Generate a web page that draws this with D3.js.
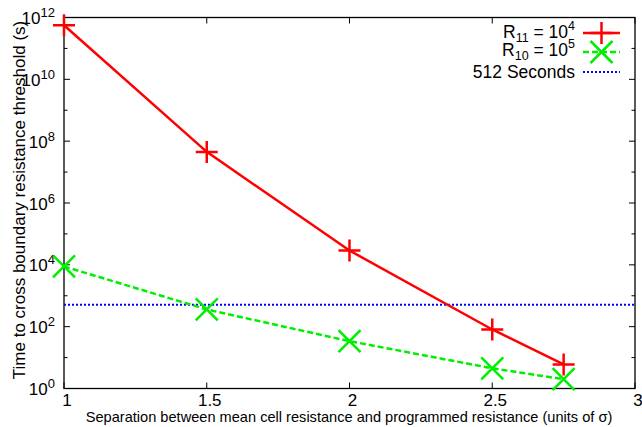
<!DOCTYPE html>
<html><head><meta charset="utf-8">
<script src="https://cdn.jsdelivr.net/npm/d3@7"></script>
<style>body{margin:0;background:#fff}text{font-family:"Liberation Sans",Arial,sans-serif;fill:#000}</style>
</head><body><svg id="c" width="642" height="427"></svg>
<script>
const xValues = [1, 1.5, 2, 2.5, 2.75];
const r11Values = [5.6e11, 4.5e7, 2.9e4, 81, 6];
const r10Values = [8.9e3, 360, 34, 4.5, 2];
const thresholdValue = 512;
const xTicks = [1, 1.5, 2, 2.5, 3];
const yTickExps = [0, 2, 4, 6, 8, 10, 12];
const yMinorExps = [0,1,2,3,4,5,6,7,8,9,10,11,12];
const legendLabels = [["R","11"," = 10","4"],["R","10"," = 10","5"],["512 Seconds"]];

const svg = d3.select("#c");
const L=64,R=635,T=17.5,B=388.5;
const x = d3.scaleLinear().domain([1,3]).range([L,R]);
const y = d3.scaleLog().domain([1,1e12]).range([B,T]);

// frame
svg.append("rect").attr("x",L).attr("y",T).attr("width",R-L).attr("height",B-T)
  .attr("fill","none").attr("stroke","#000").attr("stroke-width",1.3);

// y ticks
yMinorExps.forEach(e=>{
  const major = yTickExps.includes(e);
  const len = major?6:3.5;
  const yy=y(Math.pow(10,e));
  svg.append("line").attr("x1",L).attr("x2",L+len).attr("y1",yy).attr("y2",yy).attr("stroke","#000");
  svg.append("line").attr("x1",R).attr("x2",R-len).attr("y1",yy).attr("y2",yy).attr("stroke","#000");
});
yTickExps.forEach(e=>{
  const t=svg.append("text").attr("x",L-9).attr("y",y(Math.pow(10,e))+6.5).attr("text-anchor","end").attr("font-size",17);
  t.append("tspan").text("10");
  t.append("tspan").attr("dy",-7).attr("font-size",13).text(e);
});
// x ticks
xTicks.forEach(v=>{
  const xx=x(v);
  svg.append("line").attr("x1",xx).attr("x2",xx).attr("y1",B).attr("y2",B-6).attr("stroke","#000");
  svg.append("line").attr("x1",xx).attr("x2",xx).attr("y1",T).attr("y2",T+6).attr("stroke","#000");
  svg.append("text").attr("x",xx+3).attr("y",B+17).attr("text-anchor","middle").attr("font-size",17).text(v);
});

// axis titles
svg.append("text").attr("x",349).attr("y",422).attr("text-anchor","middle").attr("font-size",14.6)
  .text("Separation between mean cell resistance and programmed resistance (units of σ)");
svg.append("text").attr("transform","translate(25,200) rotate(-90)").attr("text-anchor","middle").attr("font-size",17)
  .text("Time to cross boundary resistance threshold (s)");

const line = d3.line().x((d,i)=>x(xValues[i])).y(d=>y(d));
// threshold
svg.append("line").attr("x1",L).attr("x2",R).attr("y1",y(thresholdValue)).attr("y2",y(thresholdValue))
  .attr("stroke","#0000ff").attr("stroke-width",2).attr("stroke-dasharray","2,2");
svg.append("path").datum(r10Values).attr("d",line).attr("fill","none").attr("stroke","#00ee00")
  .attr("stroke-width",2.5).attr("stroke-dasharray","6,3");
svg.append("path").datum(r11Values).attr("d",line).attr("fill","none").attr("stroke","#ff0000").attr("stroke-width",2.5);

const plus=(g,cx,cy,s,c)=>{g.append("path").attr("d",`M${cx-s},${cy}H${cx+s}M${cx},${cy-s}V${cy+s}`).attr("stroke",c).attr("stroke-width",2.5).attr("fill","none");};
const cross=(g,cx,cy,s,c)=>{g.append("path").attr("d",`M${cx-s},${cy-s}L${cx+s},${cy+s}M${cx-s},${cy+s}L${cx+s},${cy-s}`).attr("stroke",c).attr("stroke-width",2.5).attr("fill","none");};
r11Values.forEach((v,i)=>plus(svg,x(xValues[i]),y(v),11,"#ff0000"));
r10Values.forEach((v,i)=>cross(svg,x(xValues[i]),y(v),11,"#00ee00"));

// legend
const ly=[33,52,72];
const lb=[38,56,78];
legendLabels.forEach((lab,i)=>{
  const t=svg.append("text").attr("x",575).attr("y",lb[i]).attr("text-anchor","end").attr("font-size",17.5);
  if(lab.length===1){t.text(lab[0]);}
  else{
    t.append("tspan").text(lab[0]);
    t.append("tspan").attr("dy",4).attr("font-size",12.5).text(lab[1]);
    t.append("tspan").attr("dy",-4).text(lab[2]);
    t.append("tspan").attr("dy",-8).attr("font-size",12.5).text(lab[3]);
  }
});
svg.append("line").attr("x1",583).attr("x2",620).attr("y1",ly[0]).attr("y2",ly[0]).attr("stroke","#ff0000").attr("stroke-width",2.5);
plus(svg,601.5,ly[0],11,"#ff0000");
svg.append("line").attr("x1",583).attr("x2",620).attr("y1",ly[1]).attr("y2",ly[1]).attr("stroke","#00ee00").attr("stroke-width",2.5).attr("stroke-dasharray","6,3");
cross(svg,601.5,ly[1],11,"#00ee00");
svg.append("line").attr("x1",583).attr("x2",620).attr("y1",ly[2]).attr("y2",ly[2]).attr("stroke","#0000ff").attr("stroke-width",2).attr("stroke-dasharray","2,2");
</script></body></html>
